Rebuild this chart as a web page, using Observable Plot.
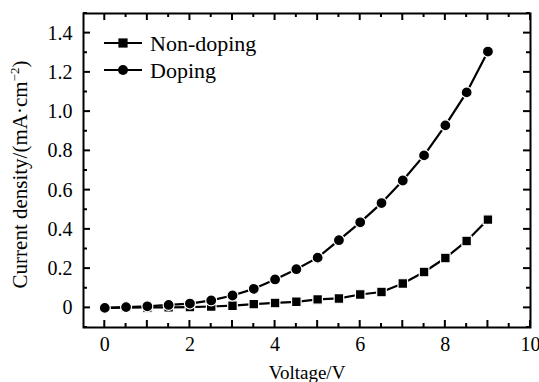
<!DOCTYPE html>
<html>
<head>
<meta charset="utf-8">
<script src="https://cdn.jsdelivr.net/npm/d3@7"></script>
<script src="https://cdn.jsdelivr.net/npm/@observablehq/plot@0.6"></script>
<style>
  body { margin: 0; background: #fff; }
  #chart svg { display: block; }
</style>
</head>
<body>
<div id="chart"></div>
<script>
const voltage = [0, 0.5, 1, 1.5, 2, 2.5, 3, 3.5, 4, 4.5, 5, 5.5, 6, 6.5, 7, 7.5, 8, 8.5, 9];
const nonDoping = [0, 0.001, 0.002, 0.003, 0.004, 0.007, 0.011, 0.019, 0.025, 0.031, 0.043, 0.048, 0.068, 0.081, 0.124, 0.183, 0.254, 0.341, 0.450];
const doping = [0, 0.004, 0.008, 0.015, 0.022, 0.038, 0.063, 0.097, 0.145, 0.197, 0.256, 0.345, 0.436, 0.534, 0.649, 0.777, 0.930, 1.098, 1.306];
const seriesNames = ["Non-doping", "Doping"];
const xLabelTicks = [0, 2, 4, 6, 8, 10];
const yLabelTicks = [0, 0.2, 0.4, 0.6, 0.8, 1.0, 1.2, 1.4];

const rows = [];
voltage.forEach((v, i) => {
  rows.push({v, j: nonDoping[i], s: seriesNames[0]});
  rows.push({v, j: doping[i], s: seriesNames[1]});
});
const ndRows = rows.filter(d => d.s === seriesNames[0]);
const dRows = rows.filter(d => d.s === seriesNames[1]);

const xMajor = d3.range(0, 10.001, 1);
const xMinor = d3.range(0.5, 10, 1);
const yMajor = d3.range(0, 1.5001, 0.2).map(d => +d.toFixed(1));
const yMinor = d3.range(-0.1, 1.5001, 0.2).map(d => +d.toFixed(1));

const FONT = "Liberation Serif";

function tickMark(index, scales, values, dims) {
  const g = d3.create("svg:g").attr("stroke", "#000").attr("stroke-width", 2);
  const L = dims.marginLeft, R = dims.width - dims.marginRight;
  const T = dims.marginTop, B = dims.height - dims.marginBottom;
  const major = 7, minor = 4;
  const xt = [...xMajor.map(v => [v, major]), ...xMinor.map(v => [v, minor])];
  const yt = [...yMajor.map(v => [v, major]), ...yMinor.map(v => [v, minor])];
  for (const [v, len] of xt) {
    const x = scales.x(v);
    g.append("line").attr("x1", x).attr("x2", x).attr("y1", B).attr("y2", B - len);
    g.append("line").attr("x1", x).attr("x2", x).attr("y1", T).attr("y2", T + len);
  }
  for (const [v, len] of yt) {
    const y = scales.y(v);
    g.append("line").attr("y1", y).attr("y2", y).attr("x1", L).attr("x2", L + len);
    g.append("line").attr("y1", y).attr("y2", y).attr("x1", R).attr("x2", R - len);
  }
  return g.node();
}

function legendMark(index, scales, values, dims) {
  const g = d3.create("svg:g");
  const x0 = dims.marginLeft, y0 = dims.marginTop;
  const items = [
    {name: seriesNames[0], sym: "square", dy: 30},
    {name: seriesNames[1], sym: "circle", dy: 57}
  ];
  for (const it of items) {
    const y = y0 + it.dy;
    g.append("line").attr("x1", x0 + 21).attr("x2", x0 + 59).attr("y1", y).attr("y2", y)
      .attr("stroke", "#000").attr("stroke-width", 2.2);
    if (it.sym === "square") {
      g.append("rect").attr("x", x0 + 40 - 4.6).attr("y", y - 4.6).attr("width", 9.2).attr("height", 9.2).attr("fill", "#000");
    } else {
      g.append("circle").attr("cx", x0 + 40).attr("cy", y).attr("r", 5).attr("fill", "#000");
    }
    g.append("text").attr("x", x0 + 67).attr("y", y).attr("dy", "0.35em")
      .attr("text-anchor", "start")
      .style("font-family", FONT).style("font-size", "22px").attr("fill", "#000").text(it.name);
  }
  return g.node();
}

const chart = Plot.plot({
  width: 539,
  height: 382,
  marginLeft: 83,
  marginRight: 9,
  marginTop: 13,
  marginBottom: 55,
  style: {fontSize: "20px", color: "#000", background: "#fff"},
  x: {domain: [-0.5, 10]},
  y: {domain: [-0.1, 1.5]},
  marks: [
    Plot.axisX({ticks: xLabelTicks, tickSize: 0, tickPadding: 9, fontSize: 20, label: null}),
    Plot.axisY({ticks: yLabelTicks, tickSize: 0, tickPadding: 11, fontSize: 20, label: null,
      tickFormat: d => d === 0 ? "0" : d.toFixed(1)}),
    tickMark,
    Plot.frame({stroke: "#000", strokeWidth: 2}),
    Plot.text(["Voltage/V"], {frameAnchor: "bottom", dy: 51, text: d => d, fontSize: 19, fill: "#000"}),
    Plot.text(["Current density/(mA·cm"], {frameAnchor: "left", textAnchor: "middle", dx: -63, dy: 4, rotate: -90, text: d => d, fontSize: 21, fill: "#000", className: "ylab"}),
    Plot.line(ndRows, {x: "v", y: "j", stroke: "#000", strokeWidth: 2.2}),
    Plot.line(dRows, {x: "v", y: "j", stroke: "#000", strokeWidth: 2.2}),
    Plot.dot(ndRows, {x: "v", y: "j", symbol: "square", r: 5.4, fill: "#000", stroke: "#fff", strokeWidth: 1.2}),
    Plot.dot(dRows, {x: "v", y: "j", symbol: "circle", r: 5.5, fill: "#000", stroke: "#fff", strokeWidth: 1.2}),
    legendMark
  ]
});

chart.style.fontFamily = FONT;
chart.querySelectorAll("text").forEach(t => { t.style.fontFamily = FONT; });

const ylab = chart.querySelector(".ylab text");
if (ylab) {
  const sup = document.createElementNS("http://www.w3.org/2000/svg", "tspan");
  sup.setAttribute("font-size", "13");
  sup.setAttribute("dy", "-8");
  sup.textContent = "−2";
  const close = document.createElementNS("http://www.w3.org/2000/svg", "tspan");
  close.setAttribute("dy", "8");
  close.textContent = ")";
  ylab.appendChild(sup);
  ylab.appendChild(close);
}

document.getElementById("chart").appendChild(chart);
</script>
</body>
</html>
